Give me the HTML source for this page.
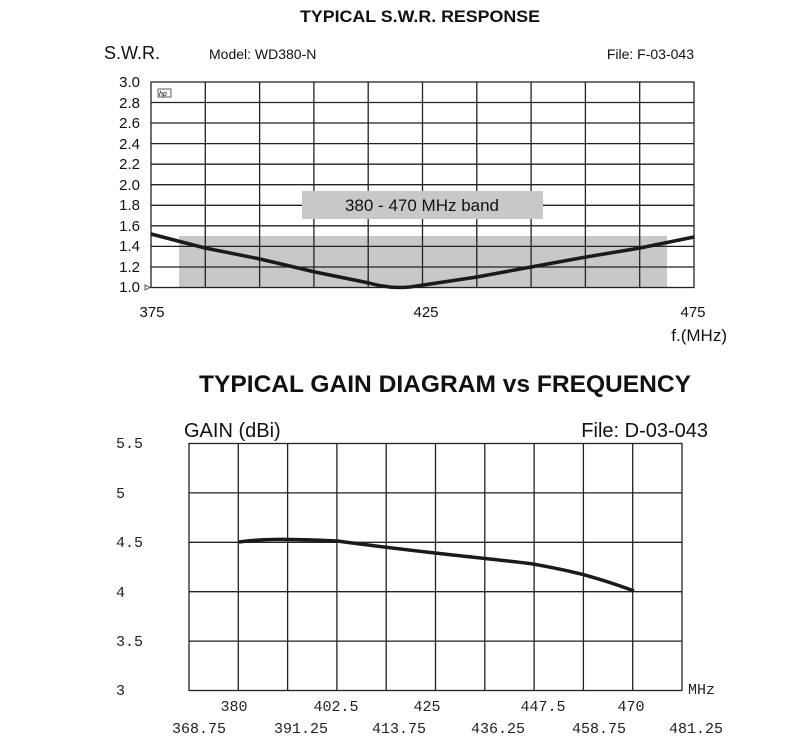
<!DOCTYPE html>
<html><head><meta charset="utf-8"><style>
html,body{margin:0;padding:0;background:#fff;}
svg{display:block;}
.s{font-family:"Liberation Sans",sans-serif;fill:#111;}
.m{font-family:"Liberation Mono",monospace;fill:#222;font-size:15px;}
</style></head><body>
<svg width="800" height="748" viewBox="0 0 800 748">
<text class="s" x="420" y="22" text-anchor="middle" font-size="17" font-weight="bold" textLength="240" lengthAdjust="spacingAndGlyphs">TYPICAL S.W.R. RESPONSE</text>
<text class="s" x="104" y="59" font-size="18">S.W.R.</text>
<text class="s" x="209" y="59" font-size="14">Model:  WD380-N</text>
<text class="s" x="694" y="59" font-size="14" text-anchor="end">File:  F-03-043</text>
<g class="s" font-size="15" text-anchor="end">
<text x="140" y="87">3.0</text><text x="140" y="108">2.8</text><text x="140" y="128">2.6</text><text x="140" y="149">2.4</text><text x="140" y="169">2.2</text><text x="140" y="190">2.0</text><text x="140" y="210">1.8</text><text x="140" y="231">1.6</text><text x="140" y="251">1.4</text><text x="140" y="272">1.2</text><text x="140" y="292">1.0</text>
</g>
<rect x="179" y="236" width="488" height="52" fill="#c8c8c8"/>
<g stroke="#222" stroke-width="1.3" fill="none">
<rect x="151" y="82" width="543" height="205.5"/>
<path d="M205.3 82V287.5M259.6 82V287.5M313.9 82V287.5M368.2 82V287.5M422.5 82V287.5M476.8 82V287.5M531.1 82V287.5M585.4 82V287.5M639.7 82V287.5"/>
<path d="M151 102.5H694M151 123H694M151 143.6H694M151 164.2H694M151 184.7H694M151 205.3H694M151 225.8H694M151 246.4H694M151 267H694"/>
</g>
<rect x="302" y="191" width="241" height="28" fill="#c8c8c8"/>
<text class="s" x="422" y="211" font-size="17" text-anchor="middle">380 - 470 MHz band</text>
<path d="M145 285l5 2.5-5 2.5z" fill="none" stroke="#333" stroke-width="0.8"/>
<rect x="158" y="89" width="13" height="8" fill="none" stroke="#333" stroke-width="0.8"/>
<text x="159" y="96" font-size="7" font-family="Liberation Sans" font-style="italic">hp</text>
<path d="M151 234 L205 248 L260 259 L315 272 L369 283 Q390 289 410 287 L477 277 L531 267 L586 257 L640 248 L694 237" fill="none" stroke="#1a1a1a" stroke-width="3.5"/>
<g class="s" font-size="15" text-anchor="middle">
<text x="152" y="317">375</text><text x="426" y="317">425</text><text x="693" y="317">475</text>
</g>
<text class="s" x="727" y="341" font-size="17" text-anchor="end">f.(MHz)</text>

<text class="s" x="445" y="392" text-anchor="middle" font-size="24" font-weight="bold" textLength="492" lengthAdjust="spacingAndGlyphs">TYPICAL GAIN DIAGRAM vs FREQUENCY</text>
<text class="s" x="184" y="437" font-size="20">GAIN (dBi)</text>
<text class="s" x="708" y="437" font-size="20" text-anchor="end">File:  D-03-043</text>
<g stroke="#222" stroke-width="1.3" fill="none">
<rect x="189" y="443.5" width="493" height="247"/>
<path d="M238.3 443.5V690.5M287.6 443.5V690.5M336.9 443.5V690.5M386.2 443.5V690.5M435.5 443.5V690.5M484.8 443.5V690.5M534.1 443.5V690.5M583.4 443.5V690.5M632.7 443.5V690.5"/>
<path d="M189 492.9H682M189 542.3H682M189 591.7H682M189 641.1H682"/>
</g>
<path d="M239 542 C260 539 280 538.5 337 541 C360 544 390 548 435 553 C470 557 510 561 533 564 C560 569 585 573 634 591" fill="none" stroke="#1a1a1a" stroke-width="3.5"/>
<g class="m" text-anchor="start">
<text x="116" y="448">5.5</text><text x="116" y="498">5</text><text x="116" y="547">4.5</text><text x="116" y="597">4</text><text x="116" y="646">3.5</text><text x="116" y="695">3</text>
</g>
<text class="m" x="688" y="694">MHz</text>
<g class="m" text-anchor="middle">
<text x="234" y="711">380</text><text x="336" y="711">402.5</text><text x="427" y="711">425</text><text x="543" y="711">447.5</text><text x="631" y="711">470</text>
<text x="199" y="733">368.75</text><text x="301" y="733">391.25</text><text x="399" y="733">413.75</text><text x="498" y="733">436.25</text><text x="599" y="733">458.75</text><text x="696" y="733">481.25</text>
</g>
</svg>
</body></html>
